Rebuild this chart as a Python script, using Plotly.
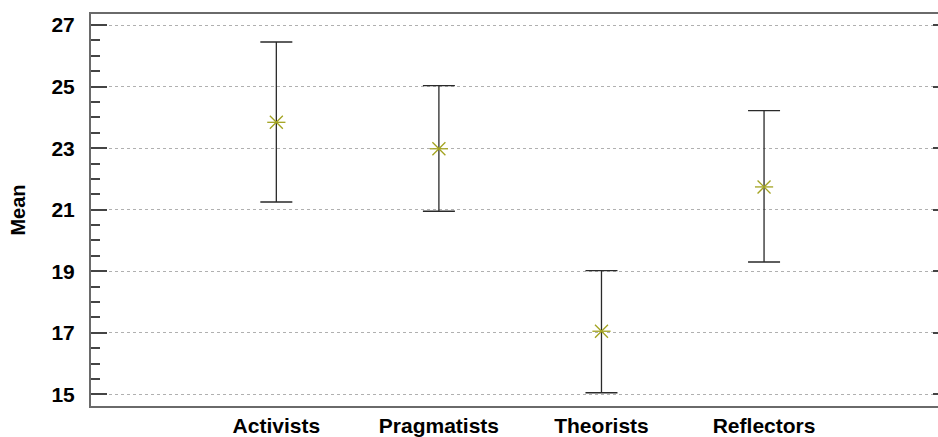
import plotly.graph_objects as go

categories = ["Activists", "Pragmatists", "Theorists", "Reflectors"]
means = [23.84, 22.98, 17.05, 21.74]
upper = [26.45, 25.03, 19.02, 24.22]
lower = [21.25, 20.95, 15.05, 19.30]

err_plus = [u - m for u, m in zip(upper, means)]
err_minus = [m - l for m, l in zip(means, lower)]

font_family = "Liberation Sans, Arial, sans-serif"
marker_color = "#a3a321"

fig = go.Figure()
fig.add_trace(go.Scatter(
    x=categories, y=means, mode="markers",
    marker=dict(symbol="x-thin-open", size=13, color=marker_color,
                line=dict(width=1.3, color=marker_color)),
    error_y=dict(type="data", array=err_plus, arrayminus=err_minus,
                 symmetric=False, color="#2a2a2a", thickness=1.3, width=16),
    showlegend=False, hoverinfo="skip",
))
fig.add_trace(go.Scatter(
    x=categories, y=means, mode="markers",
    marker=dict(symbol="line-ew-open", size=13, color=marker_color,
                line=dict(width=1.3, color=marker_color)),
    showlegend=False, hoverinfo="skip",
))
fig.add_trace(go.Scatter(
    x=categories, y=means, mode="markers", yaxis="y2",
    marker=dict(opacity=0), showlegend=False, hoverinfo="skip",
))

yrange = [14.62, 27.36]
fig.update_layout(
    width=938, height=437,
    margin=dict(l=91, r=0, t=14, b=29),
    plot_bgcolor="white", paper_bgcolor="white",
    font=dict(family=font_family, color="black"),
    xaxis=dict(
        type="category", range=[-1.14, 4.07],
        showline=True, linecolor="#6a6a6a", linewidth=2, mirror=True,
        showgrid=False, ticks="", zeroline=False,
        tickfont=dict(size=21, weight="bold", family=font_family, color="black"),
    ),
    yaxis=dict(
        range=yrange, tick0=15, dtick=2,
        showline=True, linecolor="#6a6a6a", linewidth=2,
        ticks="inside", ticklen=16, tickwidth=1.5, tickcolor="#444444",
        minor=dict(dtick=0.5, ticks="inside", ticklen=9, tickwidth=1.5,
                   tickcolor="#444444", showgrid=False),
        showgrid=True, gridcolor="#b0b0b0", griddash="3px,3px", gridwidth=1,
        zeroline=False,
        tickfont=dict(size=21, weight="bold", family=font_family, color="black"),
        ticklabelstandoff=10,
        title=dict(text="Mean", standoff=20,
                   font=dict(size=20, weight="bold", family=font_family, color="black")),
    ),
    yaxis2=dict(
        range=yrange, tick0=15, dtick=2, overlaying="y", side="right",
        ticks="inside", ticklen=5, tickwidth=1.5, tickcolor="#444444",
        showticklabels=False, showgrid=False, showline=False, zeroline=False,
    ),
)

fig.write_html(
    "out.html",
    config={"displayModeBar": False},
    post_script="document.body.style.margin='0';document.body.style.overflow='hidden';",
)
